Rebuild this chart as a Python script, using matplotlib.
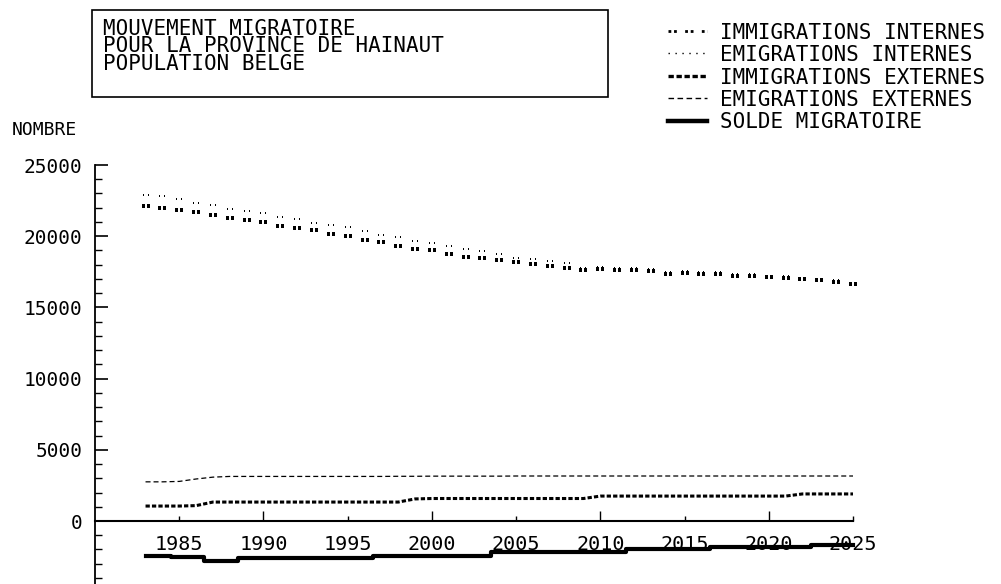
import matplotlib
matplotlib.use("Agg")
import matplotlib.pyplot as plt
from matplotlib.path import Path
from matplotlib.lines import Line2D
from matplotlib.patches import Rectangle

# ---------------- data ----------------
years = list(range(1983, 2026))

emig_int = [22900, 22800, 22630, 22360, 22170, 21900, 21790, 21640, 21340, 21230,
            20940, 20780, 20640, 20370, 20100, 19920, 19650, 19490, 19310, 19080,
            18930, 18750, 18450, 18410, 18260, 18120, 17800, 17850, 17780, 17790,
            17680, 17520, 17560, 17460, 17460, 17350, 17350, 17240, 17170, 17090,
            17020, 16900, 16730]

imm_int = [22140, 21990, 21830, 21700, 21490, 21270, 21140, 21030, 20710, 20580,
           20420, 20120, 20010, 19720, 19560, 19290, 19130, 19000, 18770, 18550,
           18460, 18350, 18170, 18060, 17910, 17770, 17660, 17720, 17630, 17640,
           17530, 17380, 17430, 17320, 17330, 17220, 17230, 17120, 17050, 16970,
           16910, 16800, 16620]

imm_ext = [1050, 1050, 1050, 1080, 1330, 1330, 1330, 1330, 1330, 1330,
           1330, 1330, 1330, 1330, 1330, 1330, 1550, 1580, 1580, 1580,
           1580, 1580, 1580, 1580, 1580, 1580, 1580, 1750, 1750, 1750,
           1750, 1750, 1750, 1750, 1750, 1750, 1750, 1750, 1750, 1900,
           1900, 1900, 1900]

emig_ext = [2750, 2750, 2780, 2950, 3080, 3130, 3130, 3130, 3130, 3130,
            3130, 3130, 3130, 3130, 3130, 3140, 3140, 3150, 3150, 3150,
            3150, 3150, 3160, 3160, 3160, 3160, 3160, 3160, 3160, 3160,
            3160, 3160, 3160, 3160, 3160, 3160, 3160, 3160, 3160, 3160,
            3160, 3160, 3160]

solde = [-2480, -2480, -2560, -2560, -2800, -2800, -2600, -2600, -2600, -2600,
         -2600, -2600, -2600, -2600, -2460, -2460, -2460, -2460, -2460, -2460,
         -2460, -2200, -2200, -2200, -2200, -2150, -2150, -2150, -2150, -1990,
         -1990, -1990, -1990, -1990, -1850, -1850, -1850, -1850, -1850, -1850,
         -1680, -1680, -1680]

title_lines = ["MOUVEMENT MIGRATOIRE", "POUR LA PROVINCE DE HAINAUT", "POPULATION BELGE"]
legend_labels = ["IMMIGRATIONS INTERNES", "EMIGRATIONS INTERNES",
                 "IMMIGRATIONS EXTERNES", "EMIGRATIONS EXTERNES", "SOLDE MIGRATOIRE"]
y_title = "NOMBRE"
x_major = [1990, 2000, 2010, 2020]
x_minor = [1985, 1995, 2005, 2015, 2025]
y_major = [0, 5000, 10000, 15000, 20000, 25000]
y_minor = list(range(-4000, 25000, 1000))

# ---------------- figure ----------------
plt.rcParams["font.family"] = ["DejaVu Sans Mono"]
W, H = 1001, 584
fig = plt.figure(figsize=(W / 100, H / 100), dpi=100)


def fx(px):
    return px / W


def fy(py):
    return 1 - py / H


ax = fig.add_axes([fx(95), 0, fx(853) - fx(95), fy(165)])
ax.set_xlim(1980, 2025)
ax.set_ylim(-4424, 25000)
ax.patch.set_alpha(0)

for s in ("top", "right"):
    ax.spines[s].set_visible(False)
ax.spines["bottom"].set_position(("data", 0))
ax.spines["bottom"].set_linewidth(1.5)
ax.spines["left"].set_linewidth(1.3)


def pair_marker(half_w, inner, half_h):
    verts, codes = [], []
    for x0, x1 in ((-half_w, -inner), (inner, half_w)):
        verts += [(x0, -half_h), (x1, -half_h), (x1, half_h), (x0, half_h), (x0, -half_h)]
        codes += [Path.MOVETO, Path.LINETO, Path.LINETO, Path.LINETO, Path.CLOSEPOLY]
    return Path(verts, codes)


bold_pair = pair_marker(1.0, 0.22, 0.42)
small_pair = pair_marker(1.0, 0.45, 0.27)

ax.plot(years, imm_int, ls="none", marker=bold_pair, ms=6.4, mew=0, color="black", clip_on=False)
ax.plot(years, emig_int, ls="none", marker=small_pair, ms=5.0, mew=0, color="black", clip_on=False)
ax.plot(years, imm_ext, color="black", lw=2.2, ls=(0, (1.4, 0.7)), clip_on=False)
ax.plot(years, emig_ext, color="black", lw=0.9, ls=(0, (4, 2.4)), clip_on=False)
ax.plot(years, solde, color="black", lw=3.0, drawstyle="steps-mid", clip_on=False)

# ticks
ax.set_yticks(y_major)
ax.set_yticks(y_minor, minor=True)
ax.set_yticklabels([str(v) for v in y_major])
ax.tick_params(axis="y", which="major", direction="in", length=9.4, width=1.2, pad=9, labelsize=14)
ax.tick_params(axis="y", which="minor", direction="in", length=5, width=1.0)

ax.set_xticks(x_major)
ax.set_xticks(x_minor, minor=True)
ax.set_xticklabels([str(v) for v in x_major])
ax.set_xticklabels([str(v) for v in x_minor], minor=True)
ax.tick_params(axis="x", which="major", direction="in", length=7, width=1.0, pad=10, labelsize=14.5)
ax.tick_params(axis="x", which="minor", direction="in", length=3.6, width=1.0, pad=10, labelsize=14.5)

# y title
fig.text(fx(12), fy(135), y_title, fontsize=13, ha="left", va="baseline")

# line-height unit (px) of a 15 pt DejaVu Sans Mono line at linespacing 1
LINE_UNIT = 19.6

# title box (multi-line text anchored at the baseline of its last line)
fig.add_artist(Rectangle((fx(92), fy(97)), fx(608) - fx(92), fy(10) - fy(97),
                         transform=fig.transFigure, fill=False, lw=1.2, ec="black"))
title_base0, title_pitch = 36.7, 16.7
fig.text(fx(103), fy(title_base0 + (len(title_lines) - 1) * title_pitch), "\n".join(title_lines),
         fontsize=15, ha="left", va="baseline", linespacing=title_pitch / LINE_UNIT)

# legend (manual): handles + one multi-line label block
handle_styles = [
    dict(lw=2.0, ls=(0, (1, 1, 1, 3))),
    dict(lw=1.0, ls=(0, (1, 4))),
    dict(lw=2.4, ls=(0, (1.6, 0.8))),
    dict(lw=1.0, ls=(0, (4, 2.5))),
    dict(lw=3.2, ls="-"),
]
leg_base0, leg_pitch = 38.3, 22.5
for i, style in enumerate(handle_styles):
    yc = leg_base0 + i * leg_pitch - 7.5
    fig.add_artist(Line2D([fx(668), fx(707)], [fy(yc), fy(yc)], transform=fig.transFigure,
                          color="black", **style))
fig.text(fx(720), fy(leg_base0 + (len(legend_labels) - 1) * leg_pitch), "\n".join(legend_labels),
         fontsize=15, ha="left", va="baseline", linespacing=leg_pitch / LINE_UNIT)

fig.savefig("out.png", dpi=100)
